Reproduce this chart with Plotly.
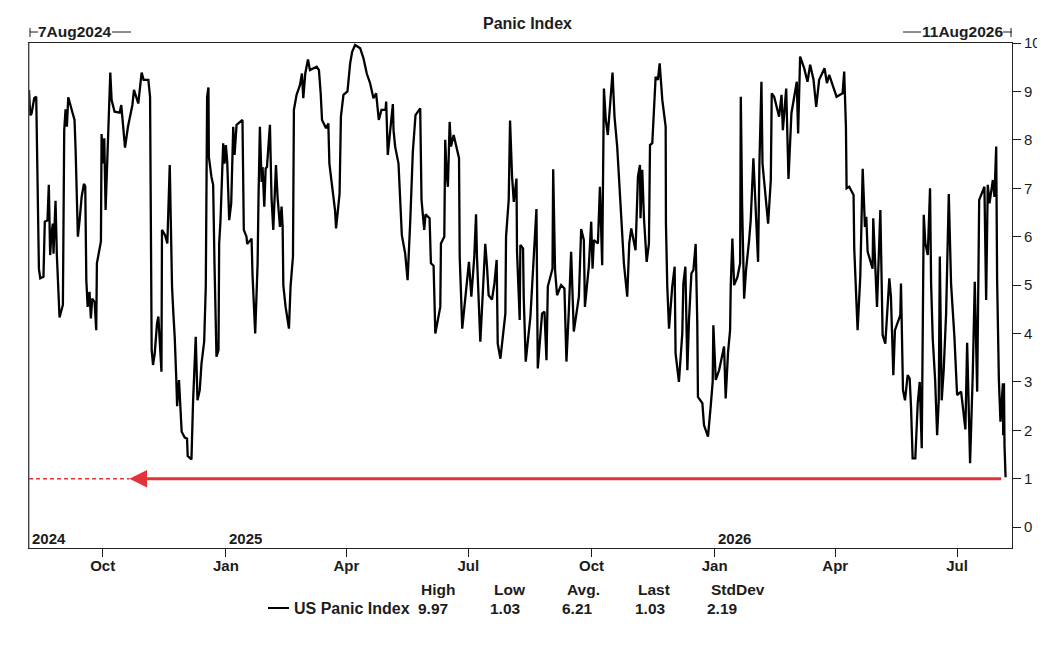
import pandas as pd
import plotly.graph_objects as go

# days since the first date on the chart, and the index on those days
START_DATE = "2024-08-07"
END_DATE = "2026-08-11"
days = [
    0, 0.9, 1.9, 2.9, 3.9, 5.4, 5.9, 6.4, 7.4, 8.4,
    10.8, 11.8, 13.8, 14.8, 15.8, 16.8, 17.8, 18.3, 19.8, 20.8,
    21.8, 22.8, 25.3, 26.3, 27.3, 28.3, 29.3, 31.5, 34, 34.8,
    35.8, 36.5, 37.8, 39.3, 41, 42, 42.8, 43.8, 45.2, 46.2,
    47.2, 49, 50.2, 50.7, 53.7, 54.2, 55.2, 56.2, 57.2, 58.7,
    59.7, 60.7, 61.7, 63.9, 67.7, 68.9, 71.7, 73.9, 77.2, 78.4,
    81.6, 84.1, 85.6, 89.1, 90.4, 90.9, 91.6, 92.6, 93.9, 95.6,
    96.6, 98.9, 99.3, 101.6, 103.3, 105.1, 105.8, 106.8, 107.8, 108.8,
    110, 110.6, 112, 113, 114, 116.3, 118, 118.5, 121.3, 122.5,
    123.5, 124.5, 125.8, 127.5, 128.8, 130.8, 132, 133, 134, 134.3,
    136.2, 137.5, 138.5, 140, 141.5, 142, 143, 143.7, 145, 146,
    147, 148, 149.5, 151, 152.5, 153.5, 155, 159.4, 160.4, 162.4,
    162.9, 166.2, 166.9, 168.9, 169.9, 170.7, 171.4, 172.4, 173.7, 174.4,
    175.7, 176.7, 177.7, 178.7, 179.9, 181.1, 182.4, 184.4, 185.6, 187.4,
    188.6, 189.4, 189.9, 191.6, 194.1, 195.3, 197.1, 197.8, 199.8, 202.3,
    203.8, 204.8, 206.3, 208.3, 209.8, 214.8, 216.5, 217.8, 218.8, 221.8,
    223.5, 224.3, 226, 228.5, 229.3, 231, 231.9, 232.9, 234.8, 237.8,
    239.8, 241.3, 243.5, 247.3, 249.8, 252.2, 254.7, 257.2, 259.2, 261.2,
    263.2, 266.2, 266.7, 267.9, 269.7, 271.7, 272.2, 273.4, 275.9, 277.2,
    278.4, 280.9, 282.7, 284.7, 286.6, 288.6, 292.1, 293.1, 295.1, 296.1,
    299.1, 300.1, 302.1, 303.4, 307.1, 307.6, 310.1, 310.8, 311.8, 312.8,
    314.1, 315.1, 317.1, 321.1, 321.6, 323.5, 326, 328.5, 330.3, 332.5,
    333.8, 334.5, 337, 338, 339, 340.7, 342, 343.2, 345.7, 347.5,
    349.2, 350, 352, 355.7, 356.2, 358.2, 359.2, 360.7, 362, 364,
    364.4, 366.4, 366.9, 368.9, 369.4, 370.9, 374.4, 376.9, 378.9, 379.9,
    383.1, 384.9, 386.4, 387.4, 390.9, 391.4, 392.8, 394.3, 397.3, 399.8,
    401.3, 403.1, 404.8, 406.8, 410.6, 412.3, 414.3, 415.1, 418, 419.8,
    420.8, 421.8, 424.8, 426.3, 428, 429.3, 430.7, 432.2, 433.7, 435.7,
    437.2, 439.2, 440.5, 442.2, 444.2, 446.7, 448.2, 449.7, 452.9, 454.7,
    456.2, 456.6, 457.9, 459.2, 461.2, 462.9, 463.7, 465.4, 467.9, 469.6,
    470.9, 472.9, 475.4, 475.6, 476.6, 477.9, 480.3, 482.1, 482.8, 485.3,
    487.8, 488.6, 490.1, 491.6, 492.8, 494.6, 496.1, 497.8, 499, 499.5,
    502.8, 504, 507, 509, 510.5, 511, 512.8, 515.3, 517, 519,
    520.2, 522, 523.5, 524, 525.2, 526.5, 529, 531, 531.5, 532.5,
    534, 535.4, 537.7, 538.9, 540.9, 542.4, 544.4, 545.4, 546.9, 547.7,
    550.2, 551.9, 553.9, 554.6, 556.4, 560.1, 561.9, 562.9, 565.4, 567.1,
    569.3, 573.3, 574.3, 575.8, 578.8, 581.3, 583.3, 585.8, 587.8, 590,
    594, 595.8, 597.5, 601.3, 603, 607.5, 608.7, 610, 610.5, 612.5,
    615.7, 616.2, 617.7, 618.7, 620.7, 621.2, 622.5, 624.2, 625.2, 626.2,
    629.9, 630.4, 633.2, 635.7, 636.2, 637.4, 639.4, 642.4, 643.6, 645.4,
    646.6, 650.6, 651.1, 652.6, 654.1, 656.1, 657.6, 658.6, 659.8, 661.8,
    663.6, 665.1, 666.6, 667.3, 668.1, 669.3, 671.1, 672.8, 673.6, 674.8,
    676.6, 678.1, 679.3, 680.1, 681.5, 683, 684.8, 686.8, 688.5, 691,
    693, 696, 698, 699.2, 700.5, 702.7, 704.7, 706.2, 708, 708.7,
    709.5, 713.4, 714.7, 715.9, 717.2, 719.7, 720.9, 722.2, 722.9, 724.2,
    725.4, 727.2, 727.4, 728, 728.4, 729.2,
]
panic_index = [
    9.03, 8.51, 8.54, 8.68, 8.86, 8.89, 8.17, 6.69, 5.34, 5.14,
    5.17, 6.31, 6.34, 7.07, 5.62, 6.07, 6.27, 5.65, 6.74, 5.62,
    4.97, 4.33, 4.59, 8.2, 8.63, 8.27, 8.88, 8.68, 8.41, 7.79,
    6.62, 6.0, 6.34, 6.82, 7.09, 7.04, 5.1, 4.55, 4.86, 4.31,
    4.72, 4.65, 4.07, 5.45, 5.9, 8.12, 7.51, 8.03, 6.55, 7.89,
    8.68, 9.39, 8.82, 8.58, 8.56, 8.72, 7.84, 8.27, 8.72, 9.03,
    8.75, 9.39, 9.24, 9.24, 8.89, 5.72, 3.66, 3.35, 3.59, 4.21,
    4.35, 3.21, 6.14, 6.03, 5.86, 7.48, 6.48, 4.97, 4.41, 3.93,
    3.04, 2.5, 3.04, 2.62, 1.97, 1.85, 1.83, 1.47, 1.4, 2.59,
    3.14, 3.93, 2.62, 2.83, 3.38, 3.83, 4.97, 8.89, 9.08, 7.65,
    7.24, 7.07, 5.45, 3.52, 3.66, 5.86, 6.34, 6.89, 7.93, 7.51,
    7.89, 7.55, 6.34, 6.69, 8.27, 7.69, 8.31, 8.41, 6.14, 6.0,
    5.85, 5.96, 5.21, 4.0, 4.62, 5.45, 6.86, 8.27, 7.13, 7.44,
    6.62, 7.41, 7.44, 7.86, 8.31, 6.79, 6.14, 7.48, 6.82, 6.2,
    6.62, 6.2, 5.0, 4.55, 4.1, 4.97, 5.59, 8.62, 8.93, 9.13,
    9.37, 8.86, 9.37, 9.66, 9.44, 9.51, 9.44, 8.96, 8.41, 8.24,
    8.34, 7.51, 7.1, 6.55, 6.17, 6.62, 6.89, 8.48, 8.93, 9.0,
    9.58, 9.82, 9.96, 9.89, 9.68, 9.37, 9.17, 8.86, 8.96, 8.41,
    8.62, 8.62, 8.79, 7.69, 8.13, 8.74, 8.2, 7.86, 7.51, 6.55,
    6.03, 5.65, 5.1, 6.34, 7.75, 8.51, 8.65, 6.76, 6.14, 6.46,
    6.38, 5.45, 5.4, 4.0, 4.55, 5.86, 6.0, 8.0, 7.31, 7.03,
    8.37, 7.86, 8.1, 7.62, 5.59, 4.1, 4.76, 5.48, 4.76, 5.59,
    6.46, 5.59, 3.83, 4.45, 4.9, 5.85, 5.38, 4.79, 4.7, 5.03,
    5.52, 3.79, 3.48, 4.41, 6.0, 6.76, 8.4, 7.24, 6.72, 7.2,
    5.69, 4.28, 5.83, 5.76, 4.76, 3.42, 4.35, 5.59, 6.57, 3.28,
    4.41, 4.45, 3.45, 4.97, 5.34, 7.39, 5.31, 4.79, 5.0, 4.93,
    3.42, 4.48, 5.69, 4.04, 4.76, 6.16, 5.93, 4.55, 5.38, 6.31,
    5.34, 5.93, 5.86, 7.03, 5.41, 9.06, 8.41, 8.1, 8.68, 9.39,
    8.48, 7.86, 7.24, 6.48, 5.45, 4.76, 5.86, 6.17, 5.72, 7.24,
    7.48, 6.38, 7.38, 6.38, 5.48, 5.86, 7.89, 7.93, 9.3, 9.24,
    9.58, 8.82, 8.27, 6.27, 4.97, 4.1, 4.97, 5.38, 3.59, 3.0,
    4.0, 5.03, 5.38, 3.24, 4.28, 5.24, 5.31, 5.85, 4.21, 2.69,
    2.56, 2.11, 1.87, 2.49, 3.0, 4.17, 3.04, 3.24, 3.48, 3.73,
    2.66, 3.62, 4.07, 5.0, 5.96, 5.0, 5.17, 5.45, 8.89, 6.62,
    4.72, 5.31, 5.93, 6.34, 7.62, 6.55, 5.48, 7.51, 9.2, 7.51,
    6.82, 6.27, 7.17, 8.96, 8.89, 8.48, 8.93, 8.2, 9.06, 7.19,
    8.55, 9.2, 8.13, 9.72, 9.48, 9.2, 9.55, 9.24, 8.68, 9.24,
    9.48, 9.17, 9.34, 9.03, 8.89, 8.96, 9.41, 8.27, 7.0, 7.03,
    6.86, 5.76, 4.93, 4.07, 5.17, 5.72, 7.4, 6.2, 6.41, 5.69,
    5.34, 6.38, 4.55, 6.55, 5.48, 3.97, 3.79, 5.14, 4.76, 3.14,
    4.07, 4.38, 5.03, 2.83, 2.62, 3.14, 3.07, 2.49, 1.42, 1.42,
    2.56, 3.0, 1.63, 4.04, 6.45, 5.86, 5.62, 7.0, 5.03, 3.9,
    3.04, 1.9, 2.62, 5.59, 2.62, 3.24, 4.41, 6.88, 5.03, 3.93,
    2.73, 2.8, 2.25, 2.02, 3.81, 1.32, 3.17, 5.07, 2.8, 4.55,
    6.76, 7.03, 4.69, 7.07, 6.69, 7.17, 6.82, 7.86, 5.1, 3.04,
    2.18, 2.97, 1.9, 2.97, 1.69, 1.03,
]

tick_dates = ["2024-10-01", "2025-01-01", "2025-04-01", "2025-07-01",
              "2025-10-01", "2026-01-01", "2026-04-01", "2026-07-01"]
tick_months = ["Oct", "Jan", "Apr", "Jul", "Oct", "Jan", "Apr", "Jul"]
year_dates = ["2024-08-08", "2025-01-02", "2026-01-02"]
year_labels = ["2024", "2025", "2026"]
y_ticks = list(range(0, 11))

series_name = "US Panic Index"
stat_names = ["High", "Low", "Avg.", "Last", "StdDev"]
stat_values = ["9.97", "1.03", "6.21", "1.03", "2.19"]

arrow_start = ["2024-08-07", "2024-10-21"]
arrow_level = [1.0, 1.0]
arrow_end = "2026-08-04"

# page pixels of the plot frame (the page body adds 8px at top and left)
LEFT, RIGHT, TOP, BOTTOM = 29, 1012, 43, 548
W, H = 1045, 648
BODY = 8
FONT = "Liberation Sans"
INK = "#1c1c1c"
RED = "#e2333a"


def px(x):
    return (x - LEFT) / (RIGHT - LEFT)


def py(y):
    return (BOTTOM - y) / (BOTTOM - TOP)


def label(text, x, y, anchor="center", size=15.5):
    return dict(text="<b>%s</b>" % text, x=px(x), y=py(y), xref="paper", yref="paper",
                xanchor=anchor, yanchor="middle", showarrow=False,
                font=dict(family=FONT, size=size, color=INK))


dates = pd.Timestamp(START_DATE) + pd.to_timedelta(days, unit="D")

fig = go.Figure()
fig.add_trace(go.Scatter(x=arrow_start, y=arrow_level, mode="lines", hoverinfo="skip",
                         line=dict(color=RED, width=1.3, dash="4px,3px")))
fig.add_trace(go.Scatter(x=dates, y=panic_index, mode="lines", name=series_name,
                         line=dict(color="black", width=2.3)))

annotations = [label("Panic Index", 527, 24, size=16),
               label("7Aug2024", 75, 32), label("11Aug2026", 962, 32)]
for d, t in zip(year_dates, year_labels):
    annotations.append(dict(text="<b>%s</b>" % t, x=d, y=py(538), xref="x", yref="paper",
                            xanchor="left", yanchor="middle", showarrow=False,
                            font=dict(family=FONT, size=15, color=INK)))
annotations.append(label(series_name, 292, 608, "left", 16))
for name, value, name_x, value_x in zip(stat_names, stat_values,
                                        [438, 510, 583, 654, 738], [433, 505, 577, 650, 722]):
    annotations.append(label(name, name_x, 589))
    annotations.append(label(value, value_x, 608))
# red arrow running back from the last reading
annotations.append(dict(x=arrow_start[1], y=arrow_level[1], ax=arrow_end, ay=arrow_level[1],
                        xref="x", yref="y", axref="x", ayref="y", text="", showarrow=True,
                        arrowhead=2, arrowsize=1.1, arrowwidth=3.2, arrowcolor=RED))

shapes = []
for x0, x1 in [(30, 38), (112, 131), (903, 921), (1003, 1012)]:
    shapes.append(dict(type="line", xref="paper", yref="paper", x0=px(x0), x1=px(x1),
                       y0=py(32), y1=py(32), line=dict(color=INK, width=1)))
for x0 in [30, 1011]:
    shapes.append(dict(type="line", xref="paper", yref="paper", x0=px(x0), x1=px(x0),
                       y0=py(28), y1=py(37), line=dict(color=INK, width=1)))
shapes.append(dict(type="line", xref="paper", yref="paper", x0=px(268), x1=px(289),
                   y0=py(608), y1=py(608), line=dict(color="black", width=2)))
# left side of the frame is lighter than the rest
shapes.append(dict(type="line", xref="paper", yref="paper", x0=0, x1=0, y0=0, y1=1,
                   line=dict(color="#666666", width=1)))

fig.update_layout(
    width=W - BODY, height=H - BODY, showlegend=False,
    margin=dict(l=LEFT - BODY, r=W - RIGHT, t=TOP - BODY, b=H - BOTTOM),
    plot_bgcolor="white", paper_bgcolor="white",
    font=dict(family=FONT, size=15, color=INK),
    annotations=annotations, shapes=shapes,
    xaxis=dict(range=[START_DATE, END_DATE], tickvals=tick_dates,
               ticktext=["<b>%s</b>" % m for m in tick_months], automargin=False,
               ticks="outside", ticklen=8, tickcolor=INK, showgrid=False, zeroline=False,
               showline=True, linecolor="#222222", linewidth=1, mirror=True,
               ticklabelstandoff=-4,
               tickfont=dict(family=FONT, size=15, color=INK)),
    yaxis=dict(range=[-0.43, 10], side="right", tickvals=y_ticks, automargin=False,
               ticks="outside", ticklen=8, tickcolor=INK, showgrid=False, zeroline=False,
               showline=True, linecolor="#222222", linewidth=1, mirror=True,
               tickfont=dict(family=FONT, size=15, color=INK), tickprefix="<b>", ticksuffix="</b>"),
)

fig.write_html("out.html")
